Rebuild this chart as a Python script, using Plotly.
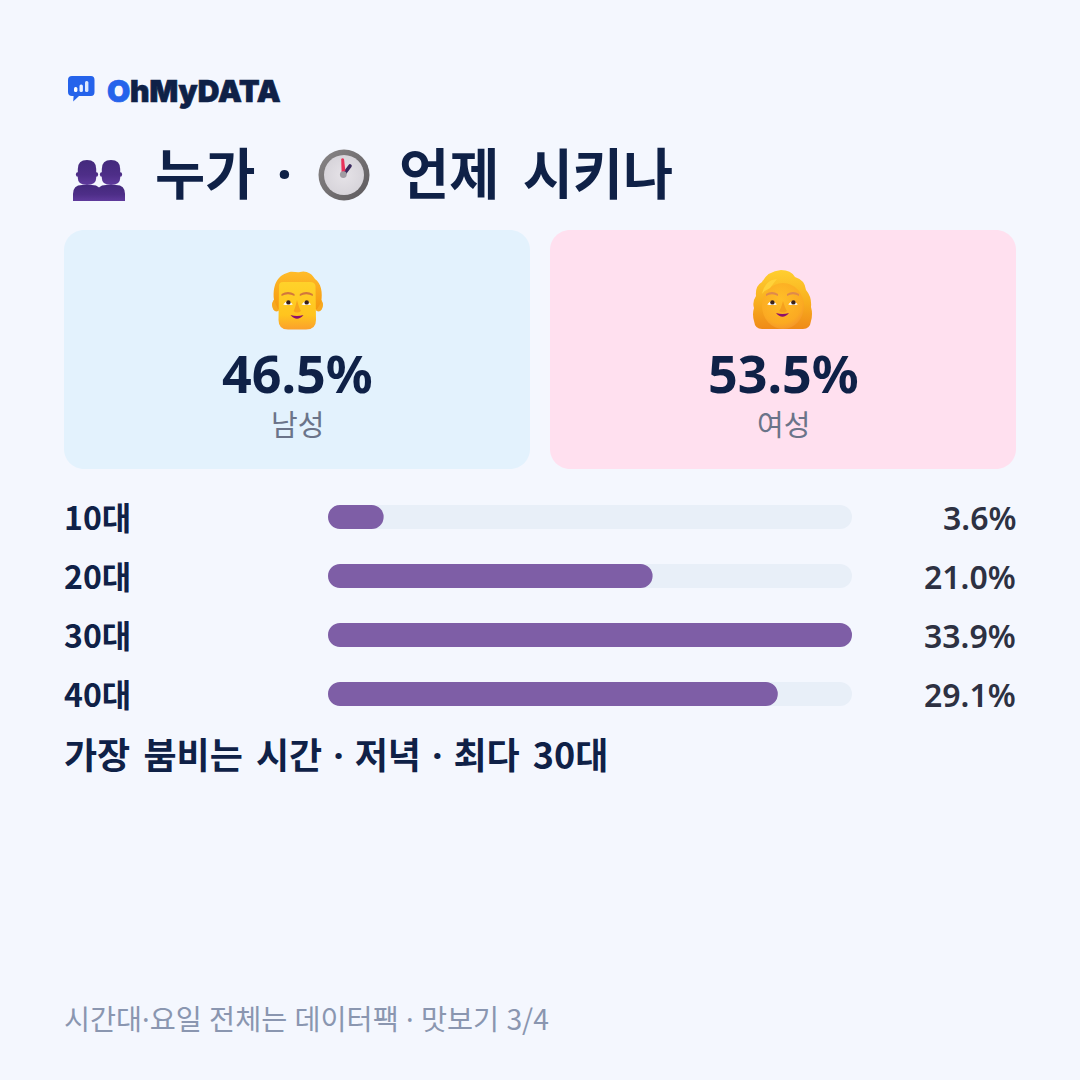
import base64
import plotly.graph_objects as go

# Audience shares
gender_labels = ["남성", "여성"]
gender_values = [46.5, 53.5]
age_groups = ["10대", "20대", "30대", "40대"]
age_shares = [3.6, 21.0, 33.9, 29.1]

BG = "#F4F7FE"
INK = "#0F2147"
PURPLE = "#7E5EA6"
TRACK = "#E8EFF8"
SIZE = 1080
KR = "'Noto Sans CJK KR', 'Noto Sans', sans-serif"
LATIN = "'Noto Sans', 'Noto Sans CJK KR', sans-serif"

BAR_LEFT, BAR_RIGHT = 328, 852
ROW_TOP, ROW_PITCH, BAR_H = 487.5, 59, 24


def px(x):
    return x / SIZE


def py(y):
    return 1 - y / SIZE


def svg_uri(w, h, body):
    svg = f'<svg xmlns="http://www.w3.org/2000/svg" width="{w*4}" height="{h*4}" viewBox="0 0 {w} {h}">{body}</svg>'
    return "data:image/svg+xml;base64," + base64.b64encode(svg.encode()).decode()


def icon(x, y, w, h, body):
    return dict(source=svg_uri(w, h, body), xref="paper", yref="paper", x=px(x), y=py(y),
                sizex=w / SIZE, sizey=h / SIZE, xanchor="left", yanchor="top",
                sizing="stretch", layer="above")


def face_features(lx, rx, ey, by, mx, my, brow, bw):
    return f'''
    <path d="M{lx-bw} {by+1} Q{lx} {by-3} {lx+bw} {by+1} L{lx+bw} {by+3} Q{lx} {by-.4} {lx-bw} {by+3}Z" fill="{brow}"/>
    <path d="M{rx-bw} {by+1} Q{rx} {by-3} {rx+bw} {by+1} L{rx+bw} {by+3} Q{rx} {by-.4} {rx-bw} {by+3}Z" fill="{brow}"/>
    <path d="M{lx-4.8} {ey+2} Q{lx} {ey-4.6} {lx+4.8} {ey+2} Q{lx} {ey+3} {lx-4.8} {ey+2}Z" fill="#fff"/>
    <path d="M{rx-4.8} {ey+2} Q{rx} {ey-4.6} {rx+4.8} {ey+2} Q{rx} {ey+3} {rx-4.8} {ey+2}Z" fill="#fff"/>
    <circle cx="{lx+.4}" cy="{ey-.1}" r="2.2" fill="#3A2018"/>
    <circle cx="{rx+.4}" cy="{ey-.1}" r="2.2" fill="#3A2018"/>
    <path d="M{mx-6.5} {my-1.5} Q{mx} {my+.5} {mx+6.5} {my-1.5} Q{mx} {my+6} {mx-6.5} {my-1.5}Z" fill="#8E0F6B"/>
    '''


MAN_SVG = '''
<defs>
<linearGradient id="h" x1="0" y1="0" x2="0" y2="1"><stop offset="0" stop-color="#FFBC2A"/><stop offset="1" stop-color="#F5980F"/></linearGradient>
<linearGradient id="f" x1="0" y1="0" x2="0" y2="1"><stop offset="0" stop-color="#FFD22A"/><stop offset=".7" stop-color="#FFC41E"/><stop offset="1" stop-color="#FBA02C"/></linearGradient>
</defs>
<ellipse cx="4.5" cy="35" rx="4.5" ry="6.5" fill="#F7A81E"/>
<ellipse cx="46.5" cy="35" rx="4.5" ry="6.5" fill="#F7A81E"/>
<path d="M2 30 C0 12 8 5 15 3 C20 0 24 3 28 2 C33 0 40 3 43 9 C49 13 51 22 49 33 L45 39 L6 39Z" fill="url(#h)"/>
<path d="M7 16 Q7 12 11 12 L38 12 Q43 12 43.5 16 L44 50 Q44 59.5 34 59.5 L16 59.5 Q6.5 59.5 6.5 50Z" fill="url(#f)"/>
<path d="M25 30 Q23 39 21.5 41 Q25 44 29 41 Q27 38 25 30Z" fill="#F7A51E"/>
''' + face_features(16, 34.3, 32.5, 23, 25, 46.5, "#D2773C", 6.5)

WOMAN_SVG = '''
<defs>
<linearGradient id="h" x1="0" y1="0" x2="0" y2="1"><stop offset="0" stop-color="#FFCF30"/><stop offset=".55" stop-color="#F8AE1E"/><stop offset="1" stop-color="#EF8A18"/></linearGradient>
<radialGradient id="f" cx=".45" cy=".35" r=".75"><stop offset="0" stop-color="#FFBE28"/><stop offset=".7" stop-color="#FBAA22"/><stop offset="1" stop-color="#F08A30"/></radialGradient>
</defs>
<path d="M1 51 Q-1 44 1 38 Q-1 32 3 26 Q2 16 9 12 Q15 1 28 0 Q38 0 42 7 Q52 10 53 20 Q59 27 58 37 Q60 44 58 51 Q57 59 50 59 L9 59 Q2 59 1 51Z" fill="url(#h)"/>
<ellipse cx="30" cy="36" rx="21" ry="23" fill="url(#f)"/>
<path d="M9 24 Q12 10 24 9 Q20 14 17 18 Q12 20 9 24Z" fill="#FFD23A"/>
<path d="M30 31 Q28 39 26 41 Q30 44 34 41 Q32 38 30 31Z" fill="#F5A01E"/>
''' + face_features(19, 40, 32.5, 23, 29.5, 44.5, "#DF8A4C", 6)

PERSON = '''
<ellipse cx="4.6" cy="14.5" rx="1.7" ry="2.2"/>
<ellipse cx="23.4" cy="14.5" rx="1.7" ry="2.2"/>
<path d="M4.8 9 Q4.8 0 14 0 Q23.2 0 23.2 9 L23.2 18 Q23.2 25 14 25 Q4.8 25 4.8 18Z"/>
<path d="M0 41 L0 34 Q0 25 9 25 L19 25 Q28 25 28 34 L28 41Z"/>
'''

PAIR_SVG = f'''
<defs><linearGradient id="b" x1="0" y1="0" x2="0" y2="1"><stop offset="0" stop-color="#43297C"/><stop offset=".6" stop-color="#4E2E88"/><stop offset="1" stop-color="#5F3A9C"/></linearGradient></defs>
<g fill="url(#b)">{PERSON}</g>
<g transform="translate(24 0)" fill="url(#b)">{PERSON}</g>'''

CLOCK_SVG = '''
<defs>
<linearGradient id="r" x1="0" y1="0" x2="1" y2="1"><stop offset="0" stop-color="#8A8788"/><stop offset="1" stop-color="#5C595C"/></linearGradient>
<radialGradient id="d" cx=".5" cy=".5" r=".55"><stop offset="0" stop-color="#E6E3E8"/><stop offset="1" stop-color="#D6D3D9"/></radialGradient>
</defs>
<circle cx="26" cy="26" r="25.5" fill="url(#r)"/>
<circle cx="26" cy="26" r="20" fill="url(#d)"/>
<path d="M25.3 26 L32 17" stroke="#3A2A5E" stroke-width="3.6" stroke-linecap="round"/>
<path d="M23.2 10 Q24.6 8.4 26 10 L27.4 22 L23.6 24Z" fill="#E8325A"/>
<circle cx="25.3" cy="25.6" r="3.4" fill="#A09DA3"/>
'''

LOGO_SVG = '''
<path d="M4 0 H23 Q26.5 0 26.5 4 V16 Q26.5 20 23 20 H11 L5.2 25.5 L5.6 20 H4 Q0 20 0 16 V4 Q0 0 4 0Z" fill="#2563EB"/>
<rect x="6" y="11" width="3.4" height="5" rx="1.5" fill="#fff"/>
<rect x="11.5" y="8.5" width="3.4" height="7.5" rx="1.5" fill="#E8F0FF"/>
<rect x="17" y="5" width="3.4" height="11" rx="1.5" fill="#DCE8FF"/>
'''


def rounded_path(x0, y0, x1, y1, r):
    k = r * 0.45
    pts = [
        f"M{px(x0+r)},{py(y0)}", f"L{px(x1-r)},{py(y0)}",
        f"C{px(x1-k)},{py(y0)} {px(x1)},{py(y0+k)} {px(x1)},{py(y0+r)}",
        f"L{px(x1)},{py(y1-r)}",
        f"C{px(x1)},{py(y1-k)} {px(x1-k)},{py(y1)} {px(x1-r)},{py(y1)}",
        f"L{px(x0+r)},{py(y1)}",
        f"C{px(x0+k)},{py(y1)} {px(x0)},{py(y1-k)} {px(x0)},{py(y1-r)}",
        f"L{px(x0)},{py(y0+r)}",
        f"C{px(x0)},{py(y0+k)} {px(x0+k)},{py(y0)} {px(x0+r)},{py(y0)}", "Z",
    ]
    return " ".join(pts)


def card(x0, y0, x1, y1, r, color):
    return dict(type="path", xref="paper", yref="paper", path=rounded_path(x0, y0, x1, y1, r),
                fillcolor=color, line=dict(width=0), layer="below")


def left_cap_mask(x, yc, h):
    # Plotly rounds only the far end of a bar, so the near end is trimmed with page-coloured corners
    r = h / 2
    k = r * 0.45
    t, b = yc - r, yc + r
    path = (f"M{px(x-1)},{py(t-1)} L{px(x+r)},{py(t-1)} L{px(x+r)},{py(t)} "
            f"C{px(x+k)},{py(t)} {px(x)},{py(t+k)} {px(x)},{py(yc)} "
            f"C{px(x)},{py(b-k)} {px(x+k)},{py(b)} {px(x+r)},{py(b)} "
            f"L{px(x+r)},{py(b+1)} L{px(x-1)},{py(b+1)} Z")
    return dict(type="path", xref="paper", yref="paper", path=path,
                fillcolor=BG, line=dict(width=0), layer="above")


def gap_span(s, gap):
    return f'<span style="word-spacing:{gap}px">{s}</span>' if s else ""


def spaced(s, word_gap, dot_gap=0):
    # Wider word gaps, a separate gap beside the middle dot, and a narrow Latin dot
    run = []
    for i, part in enumerate(s.split("·")):
        if i:
            run.append('<span style="font-family:Noto Sans">·</span>')
        core = part.strip(" ")
        lead = part[: len(part) - len(part.lstrip(" "))]
        trail = part[len(part.rstrip(" ")):] if core else ""
        run += [gap_span(lead, dot_gap), gap_span(core, word_gap), gap_span(trail, dot_gap)]
    return "".join(run)


def text(x, y, s, size, color=INK, weight=400, family=KR, anchor="left"):
    return dict(xref="paper", yref="paper", x=px(x), y=py(y), text=s, showarrow=False,
                xanchor=anchor, yanchor="middle", align=anchor,
                font=dict(size=size, color=color, weight=weight, family=family),
                borderpad=0, borderwidth=0)


peak = max(age_shares)
fig = go.Figure()
fig.add_bar(y=age_groups, x=[peak] * len(age_groups), orientation="h",
            marker=dict(color=TRACK, line_width=0, cornerradius=BAR_H / 2),
            width=BAR_H / ROW_PITCH, hoverinfo="skip", xaxis="x", yaxis="y")
fig.add_bar(y=age_groups, x=age_shares, orientation="h",
            marker=dict(color=PURPLE, line_width=0, cornerradius=BAR_H / 2),
            width=BAR_H / ROW_PITCH, xaxis="x2", yaxis="y2")

heavy = 'style="stroke:{c};stroke-width:0.7px"'
annotations = [
    text(107, 91, f'<span {heavy.format(c="#2563EB")}>O</span>', 30, "#2563EB", 900, "'Inter', sans-serif"),
    text(130, 91, f'<span {heavy.format(c=INK)}>hMyDATA</span>', 30, INK, 900, "'Inter', sans-serif"),
    text(155, 170, spaced("누가 ·", 0, 9), 54.5, INK, 700),
    text(399, 170, spaced("언제 시키나", 11), 54.5, INK, 700),
    text(297, 372, f"{gender_values[0]:.1f}%", 52, INK, 700, LATIN, "center"),
    text(783, 372, f"{gender_values[1]:.1f}%", 52, INK, 700, LATIN, "center"),
    text(297, 423, gender_labels[0], 29, "#6B7489", 400, KR, "center"),
    text(783, 423, gender_labels[1], 29, "#6B7489", 400, KR, "center"),
    text(64, 753.5, spaced("가장 붐비는 시간 · 저녁 · 최다 30대", 5, 3), 36, INK, 700),
    text(64, 1018, spaced("시간대·요일 전체는 데이터팩 · 맛보기 3/4", 1, 1), 28.3, "#8A96B0", 400),
]
masks = []
for i, (g, v) in enumerate(zip(age_groups, age_shares)):
    yc = ROW_TOP + ROW_PITCH * (i + 0.5)
    annotations.append(text(64, yc - 1, g, 32, INK, 700))
    annotations.append(text(1016, yc + 0.5, f"{v:.1f}%", 32, "#2D3142", 600, LATIN, "right"))
    masks.append(left_cap_mask(BAR_LEFT, yc, BAR_H))

x_axis = dict(domain=[px(BAR_LEFT), px(BAR_RIGHT)], range=[0, peak], visible=False, fixedrange=True)
y_axis = dict(domain=[py(ROW_TOP + 4 * ROW_PITCH), py(ROW_TOP)], autorange=False, range=[3.5, -0.5], type="category",
              categoryorder="array", categoryarray=age_groups, visible=False, fixedrange=True)

fig.update_layout(
    width=SIZE, height=SIZE, margin=dict(l=0, r=0, t=0, b=0), autosize=False,
    paper_bgcolor=BG, plot_bgcolor="rgba(0,0,0,0)", showlegend=False,
    barmode="overlay",
    xaxis=x_axis, yaxis=y_axis,
    xaxis2=dict(x_axis, anchor="y2"), yaxis2=dict(y_axis, anchor="x2"),
    shapes=[card(64, 230, 530, 469, 20, "#E3F2FD"), card(550, 230, 1016, 469, 20, "#FFE0EF")] + masks,
    annotations=annotations,
    images=[
        icon(68, 76, 27, 26, LOGO_SVG),
        icon(73, 160, 52, 41, PAIR_SVG),
        icon(318, 149, 52, 52, CLOCK_SVG),
        icon(272, 270, 51, 60, MAN_SVG),
        icon(753, 270, 60, 60, WOMAN_SVG),
    ],
)
fig.write_html("out.html", config=dict(displayModeBar=False))
